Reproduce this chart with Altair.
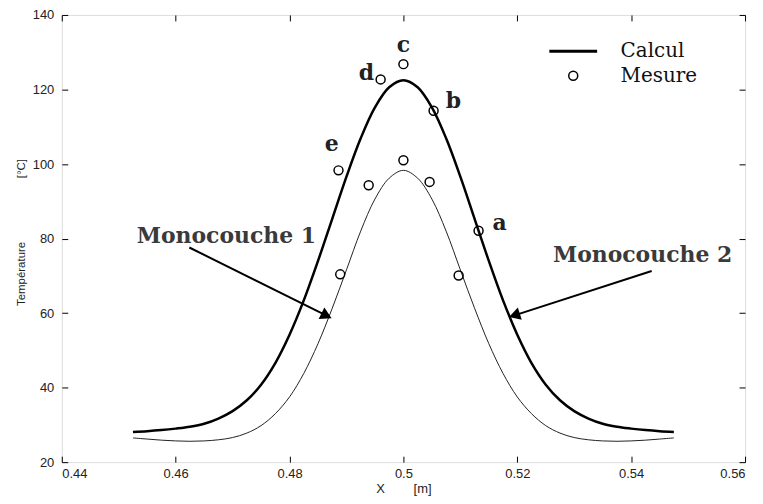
import altair as alt
import pandas as pd

# ---- data ----
x_grid = [0.4525, 0.455, 0.4575, 0.46, 0.4625, 0.465, 0.4675, 0.47, 0.4725, 0.475,
          0.4775, 0.48, 0.4825, 0.485, 0.4875, 0.49, 0.4925, 0.495, 0.4975, 0.5,
          0.5025, 0.505, 0.5075, 0.51, 0.5125, 0.515, 0.5175, 0.52, 0.5225, 0.525,
          0.5275, 0.53, 0.5325, 0.535, 0.5375, 0.54, 0.5425, 0.545, 0.5475]
calc_mono2 = [28.1, 28.3, 28.6, 29.0, 29.5, 30.3, 31.7, 33.7, 36.6, 40.8,
              46.6, 54.2, 63.4, 74.0, 85.3, 96.6, 106.9, 115.2, 120.6, 122.5,
              120.6, 115.2, 106.9, 96.6, 85.3, 74.0, 63.4, 54.2, 46.6, 40.8,
              36.6, 33.7, 31.7, 30.3, 29.5, 29.0, 28.6, 28.3, 28.1]
calc_mono1 = [26.5, 26.2, 25.9, 25.7, 25.6, 25.7, 26.0, 26.6, 27.8, 29.8,
              33.0, 37.5, 43.8, 51.8, 61.3, 71.6, 82.0, 90.6, 96.2, 98.3,
              96.2, 90.6, 82.0, 71.6, 61.3, 51.8, 43.8, 37.5, 33.0, 29.8,
              27.8, 26.6, 26.0, 25.7, 25.6, 25.7, 25.9, 26.2, 26.5]
mes_x = [0.5, 0.4960, 0.5053, 0.4886, 0.5132, 0.5, 0.4939, 0.5046, 0.4889, 0.5097]
mes_y = [126.8, 122.7, 114.3, 98.3, 82.1, 101.0, 94.3, 95.2, 70.4, 70.1]

letter_txt = ["a", "b", "c", "d", "e"]
letter_x = [0.5169, 0.5088, 0.5, 0.4935, 0.4874]
letter_y = [84.1, 116.8, 132.0, 124.4, 105.3]

label_txt = ["Monocouche 1", "Monocouche 2"]
label_x = [0.4689, 0.5420]
label_y = [80.7, 75.6]

arrow_x0 = [0.4624, 0.5436]
arrow_y0 = [77.6, 71.3]
arrow_x1 = [0.4865, 0.5195]
arrow_y1 = [59.3, 59.4]
arrow_angle = [26.4, 162.4]

x_ticks = [0.44, 0.46, 0.48, 0.5, 0.52, 0.54, 0.56]
y_ticks = [20, 40, 60, 80, 100, 120, 140]
legend_items = ["Calcul", "Mesure"]

# ---- tables ----
curves2 = pd.DataFrame({"x": x_grid, "y": calc_mono2})
curves1 = pd.DataFrame({"x": x_grid, "y": calc_mono1})
mes = pd.DataFrame({"x": mes_x, "y": mes_y, "kind": ["Mesure"] * len(mes_x)})
letters = pd.DataFrame({"x": letter_x, "y": letter_y, "t": letter_txt})
labels = pd.DataFrame({"x": label_x, "y": label_y, "t": label_txt})
arrows = pd.DataFrame({"x": arrow_x0, "y": arrow_y0, "x2": arrow_x1, "y2": arrow_y1,
                       "ang": arrow_angle})

xs = alt.Scale(domain=[0.44, 0.56], nice=False, zero=False)
ys = alt.Scale(domain=[20, 140], nice=False, zero=False)

LBL_FONT = "Liberation Sans"


def tick_axis(orient, vals):
    return alt.Axis(orient=orient, values=vals, labels=False, domain=False, grid=False,
                    ticks=True, tickSize=6, tickColor="black", tickWidth=1, offset=-6,
                    title=None)


x_main = alt.Axis(orient="bottom", values=x_ticks, format="~g", ticks=False, grid=False,
                  domain=False, labelFont=LBL_FONT, labelFontSize=13, labelColor="#222",
                  labelPadding=5,
                  title="X" + "\u00a0" * 8 + "[m]", titleFont=LBL_FONT, titleFontSize=13,
                  titleFontWeight="normal", titleColor="#222",
                  titleBaseline="alphabetic", titleY=30)
y_main = alt.Axis(orient="left", values=y_ticks, ticks=False, grid=False, domain=False,
                  labelFont=LBL_FONT, labelFontSize=13, labelColor="#222", labelPadding=8,
                  title="Température" + "\u00a0" * 20 + "[°C]", titleFont=LBL_FONT,
                  titleFontSize=11.5, titleFontWeight="normal", titleColor="#222",
                  titlePadding=6, titleY=218)

thick = alt.Chart(curves2).mark_line(color="black", strokeWidth=2.5,
                                     interpolate="catmull-rom").encode(
    x=alt.X("x:Q", scale=xs, axis=x_main),
    y=alt.Y("y:Q", scale=ys, axis=y_main),
)
thin = alt.Chart(curves1).mark_line(color="#222", strokeWidth=1,
                                    interpolate="catmull-rom").encode(
    x=alt.X("x:Q", scale=xs, axis=tick_axis("bottom", x_ticks)),
    y=alt.Y("y:Q", scale=ys, axis=tick_axis("left", y_ticks)),
)

leg = alt.Legend(title=None, orient="none", legendX=488, legendY=11,
                 labelFont="DejaVu Serif", labelFontSize=20, labelColor="#111",
                 labelOffset=22, rowPadding=4)
points = alt.Chart(mes).mark_point(filled=False, color="black", opacity=1).encode(
    x=alt.X("x:Q", scale=xs, axis=tick_axis("top", x_ticks)),
    y=alt.Y("y:Q", scale=ys, axis=tick_axis("right", y_ticks)),
    shape=alt.Shape("kind:N", scale=alt.Scale(domain=legend_items, range=["stroke", "circle"]),
                    legend=leg),
    size=alt.Size("kind:N", scale=alt.Scale(type="ordinal", domain=legend_items,
                                            range=[2304, 81]), legend=leg),
    strokeWidth=alt.StrokeWidth("kind:N", scale=alt.Scale(type="ordinal", domain=legend_items,
                                                          range=[3, 1.5]), legend=leg),
)

letter_layer = alt.Chart(letters).mark_text(font="DejaVu Serif", fontWeight="bold",
                                             fontSize=22, color="#222",
                                             baseline="middle", align="center").encode(
    x=alt.X("x:Q", scale=xs, axis=None),
    y=alt.Y("y:Q", scale=ys, axis=None),
    text="t:N",
)
label_layer = alt.Chart(labels).mark_text(font="DejaVu Serif", fontWeight="bold",
                                           fontSize=22, color="#3a3a3a",
                                           baseline="middle", align="center").encode(
    x=alt.X("x:Q", scale=xs, axis=None),
    y=alt.Y("y:Q", scale=ys, axis=None),
    text="t:N",
)
arrow_lines = alt.Chart(arrows).mark_rule(color="black", strokeWidth=2).encode(
    x=alt.X("x:Q", scale=xs, axis=None),
    y=alt.Y("y:Q", scale=ys, axis=None),
    x2="x2:Q",
    y2="y2:Q",
)
arrow_heads = alt.Chart(arrows).mark_point(shape="triangle-right", filled=True, color="black",
                                           size=170, opacity=1).encode(
    x=alt.X("x2:Q", scale=xs, axis=None),
    y=alt.Y("y2:Q", scale=ys, axis=None),
    angle=alt.Angle("ang:Q", scale=None),
)

chart = alt.layer(
    thick, thin, points, letter_layer, label_layer, arrow_lines, arrow_heads
).resolve_axis(x="independent", y="independent").properties(
    width=686, height=449,
    autosize=alt.AutoSizeParams(type="none"),
    padding={"left": 54, "top": 6, "right": 10, "bottom": 33},
).configure_view(stroke="black", strokeWidth=1).configure(background="white")

chart.save("out.html", embed_options={"renderer": "svg", "actions": False})
